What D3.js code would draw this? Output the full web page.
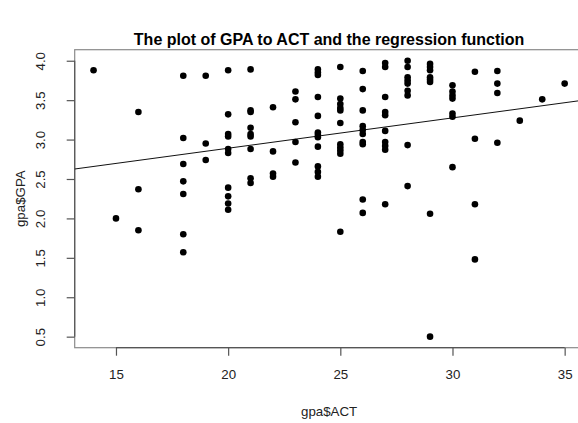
<!DOCTYPE html>
<html>
<head>
<meta charset="utf-8">
<script src="https://cdn.jsdelivr.net/npm/d3@7"></script>
<style>
  body { margin: 0; background: #fff; }
  svg text { font-family: "Liberation Sans", Arial, sans-serif; }
</style>
</head>
<body>
<svg id="chart" width="578" height="423"></svg>
<script>
// ACT score and GPA for each student
const act = [
  14, 15, 16, 16, 16,
  18, 18, 18, 18, 18, 18, 18,
  19, 19, 19,
  20, 20, 20, 20, 20, 20, 20, 20, 20, 20,
  21, 21, 21, 21, 21, 21, 21, 21, 21,
  22, 22, 22, 22,
  23, 23, 23, 23, 23,
  24, 24, 24, 24, 24, 24, 24, 24, 24, 24, 24, 24,
  25, 25, 25, 25, 25, 25, 25, 25, 25, 25, 25,
  26, 26, 26, 26, 26, 26, 26, 26, 26, 26,
  27, 27, 27, 27, 27, 27, 27, 27, 27, 27,
  28, 28, 28, 28, 28, 28, 28, 28, 28,
  29, 29, 29, 29, 29, 29, 29, 29,
  30, 30, 30, 30, 30, 30, 30,
  31, 31, 31, 31,
  32, 32, 32, 32,
  33, 34, 35
]
const gpa = [
  3.88, 2.0, 3.35, 2.37, 1.85,
  3.81, 3.02, 2.69, 2.47, 2.31, 1.80, 1.57,
  3.81, 2.95, 2.74,
  3.88, 3.32, 3.07, 3.04, 2.88, 2.83, 2.39, 2.28, 2.19, 2.11,
  3.89, 3.37, 3.35, 3.15, 3.07, 3.04, 2.88, 2.51, 2.45,
  3.41, 2.85, 2.57, 2.53,
  3.61, 3.51, 3.22, 2.97, 2.71,
  3.89, 3.85, 3.82, 3.54, 3.30, 3.09, 3.06, 3.03, 2.91, 2.66, 2.59, 2.53,
  3.92, 3.52, 3.45, 3.40, 3.37, 3.21, 2.94, 2.90, 2.86, 2.82, 1.83,
  3.87, 3.64, 3.37, 3.17, 3.12, 3.07, 2.97, 2.94, 2.24, 2.07,
  3.97, 3.92, 3.54, 3.35, 3.31, 3.11, 2.97, 2.92, 2.87, 2.18,
  4.00, 3.92, 3.79, 3.75, 3.71, 3.62, 3.56, 2.93, 2.41,
  3.96, 3.92, 3.88, 3.79, 3.76, 3.73, 2.06, 0.50,
  3.69, 3.61, 3.56, 3.52, 3.33, 3.29, 2.65,
  3.86, 3.01, 2.18, 1.48,
  3.87, 3.71, 3.59, 2.96,
  3.24, 3.51, 3.71
]

const xTicks = [15, 20, 25, 30, 35]
const yTicks = [0.5, 1.0, 1.5, 2.0, 2.5, 3.0, 3.5, 4.0]

// fitted line gpa = a + b * act
const intercept = 2.12
const slope = 0.0385

const svg = d3.select('#chart')

// R style: 4% padding on each side of the data range
let xMin = d3.min(act), xMax = d3.max(act)
let yMin = d3.min(gpa), yMax = d3.max(gpa)
let xPad = (xMax - xMin) * 0.04
let yPad = (yMax - yMin) * 0.04

let plotLeft = 74.7, plotRight = 583.5
let plotTop = 49.7, plotBottom = 347.7

let xScale = d3.scaleLinear()
.domain([xMin - xPad, xMax + xPad])
.range([plotLeft, plotRight])

let yScale = d3.scaleLinear()
.domain([yMin - yPad, yMax + yPad])
.range([plotBottom, plotTop])

svg.append('defs')
.append('clipPath')
.attr('id', 'plotclip')
.append('rect')
.attr('x', plotLeft)
.attr('y', plotTop)
.attr('width', plotRight - plotLeft)
.attr('height', plotBottom - plotTop)

// title
svg.append('text')
.attr('x', (plotLeft + plotRight) / 2)
.attr('y', 45)
.attr('text-anchor', 'middle')
.style('font-size', '16px')
.style('font-weight', 'bold')
.style('fill', '#000')
.text('The plot of GPA to ACT and the regression function')

// box round the plot region
svg.append('rect')
.attr('x', plotLeft)
.attr('y', plotTop)
.attr('width', plotRight - plotLeft)
.attr('height', plotBottom - plotTop)
.attr('fill', 'none')
.attr('stroke', '#8a8a8a')
.attr('stroke-width', 1.2)

// x axis
let xaxis = svg.append('g')
.attr('class', 'xaxis')
.attr('transform', 'translate(0,' + plotBottom + ')')
.call(
  d3.axisBottom(xScale)
  .tickValues(xTicks)
  .tickSizeOuter(0)
  .tickSizeInner(8)
  .tickPadding(14)
  .tickFormat(d3.format('d'))
)

xaxis.select('.domain').remove()
xaxis.append('line')
.attr('x1', xScale(xTicks[0]))
.attr('x2', xScale(xTicks[xTicks.length - 1]))
.attr('stroke', '#555')
.attr('stroke-width', 1.2)

xaxis.selectAll('.tick line').attr('stroke', '#555').attr('stroke-width', 1.2)
xaxis.selectAll('text')
.style('font-size', '13.3px')
.style('fill', '#222')

// y axis, labels turned like R's las = 0
let yaxis = svg.append('g')
.attr('class', 'yaxis')
.attr('transform', 'translate(' + plotLeft + ',0)')
.call(
  d3.axisLeft(yScale)
  .tickValues(yTicks)
  .tickSizeOuter(0)
  .tickSizeInner(8)
  .tickFormat(d3.format('.1f'))
)

yaxis.select('.domain').remove()
yaxis.append('line')
.attr('y1', yScale(yTicks[0]))
.attr('y2', yScale(yTicks[yTicks.length - 1]))
.attr('stroke', '#555')
.attr('stroke-width', 1.2)

yaxis.selectAll('.tick line').attr('stroke', '#555').attr('stroke-width', 1.2)
yaxis.selectAll('text')
.attr('x', null)
.attr('dy', null)
.attr('transform', 'translate(-30,0) rotate(-90)')
.attr('text-anchor', 'middle')
.style('font-size', '13.3px')
.style('fill', '#222')

// axis titles
svg.append('text')
.attr('x', (plotLeft + plotRight) / 2)
.attr('y', 416)
.attr('text-anchor', 'middle')
.style('font-size', '13.3px')
.style('fill', '#222')
.text('gpa$ACT')

svg.append('text')
.attr('transform', 'translate(25,' + ((plotTop + plotBottom) / 2) + ') rotate(-90)')
.attr('text-anchor', 'middle')
.style('font-size', '13.3px')
.style('fill', '#222')
.text('gpa$GPA')

// regression line across the plot region
let lineX = xScale.domain()
svg.append('line')
.attr('clip-path', 'url(#plotclip)')
.attr('x1', xScale(lineX[0]))
.attr('y1', yScale(intercept + slope * lineX[0]))
.attr('x2', xScale(lineX[1]))
.attr('y2', yScale(intercept + slope * lineX[1]))
.attr('stroke', '#111')
.attr('stroke-width', 1)

// points
svg.append('g')
.selectAll('circle')
.data(act.map((a, i) => ({ act: a, gpa: gpa[i] })))
.join('circle')
.attr('cx', d => xScale(d.act))
.attr('cy', d => yScale(d.gpa))
.attr('r', 3.3)
.attr('fill', '#000')
</script>
</body>
</html>
